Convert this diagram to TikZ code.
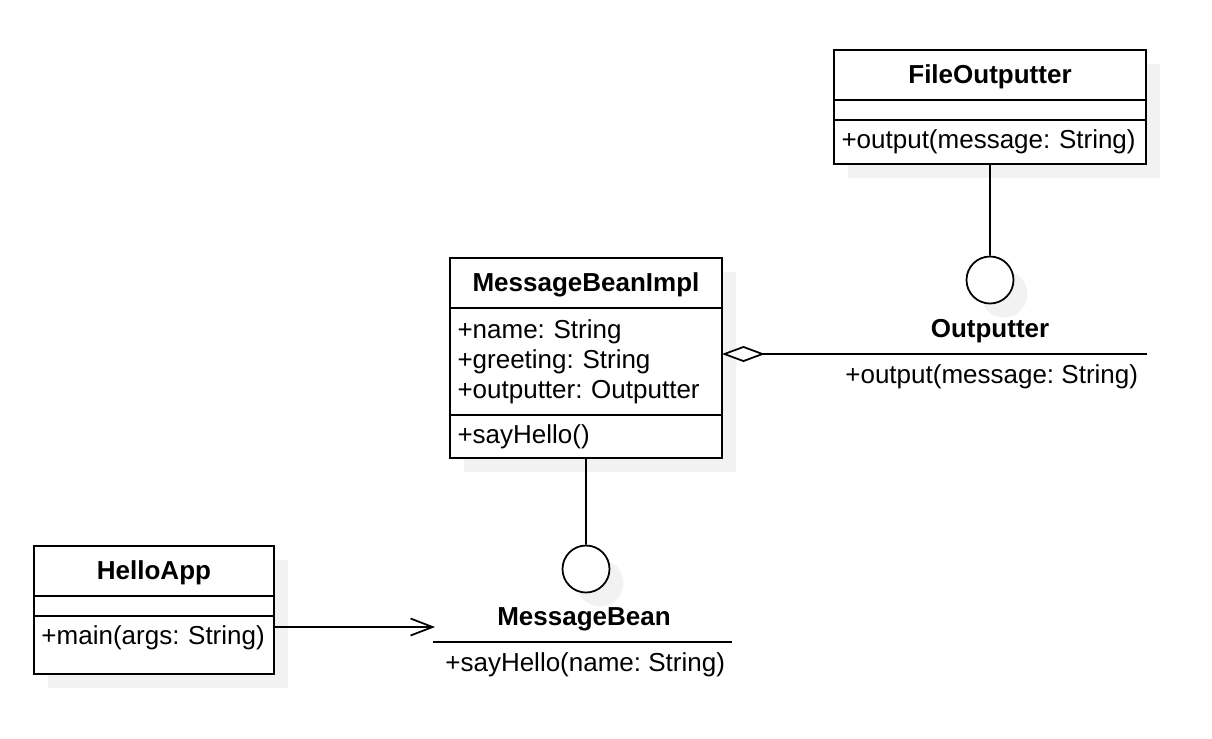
\documentclass[tikz,border=0pt]{standalone}
\usepackage{fontspec}
\setmainfont{Liberation Sans}
\usetikzlibrary{arrows.meta,positioning,shadows}

\newcommand{\umlfont}{\fontsize{14.8}{17}\selectfont\frenchspacing}

\begin{document}
\begin{tikzpicture}[x=0.02cm, y=-0.02cm,
        every node/.style={font=\umlfont},
        clsshadow/.style={drop shadow={shadow xshift=0.28cm, shadow yshift=-0.28cm,
                          fill=black!5, opacity=1}},
        clspart/.style={draw, fill=white, line width=1pt, outer sep=0pt,
                        inner xsep=0.15cm, inner ysep=0pt, align=left, clsshadow},
        clstitle/.style={clspart, align=center, font=\umlfont\bfseries, minimum height=1cm,
                         text height=0.42cm, text depth=0.07cm},
        clsempty/.style={clspart, minimum height=0.4cm},
        ifcircle/.style={draw, circle, fill=white, line width=1pt, minimum size=0.94cm,
                         inner sep=0pt, clsshadow},
        conn/.style={line width=1pt},
    ]
        \useasboundingbox (0,0) rectangle (1212,738);

        % FileOutputter
        \node[clstitle, text width=5.94cm, anchor=north west] (fo) at (834,50) {FileOutputter};
        \node[clsempty, text width=5.94cm, below=0pt of fo] (fo-attr) {};
        \node[clspart, text width=5.94cm, minimum height=0.88cm, below=0pt of fo-attr] (fo-ops)
              {+output(message: String)};

        % MessageBeanImpl
        \node[clstitle, text width=5.14cm, anchor=north west] (mbi) at (450,258) {MessageBeanImpl};
        \node[clspart, text width=5.14cm, minimum height=2.14cm, below=0pt of mbi] (mbi-attr)
              {+name: String\\+greeting: String\\+outputter: Outputter};
        \node[clspart, text width=5.14cm, minimum height=0.86cm, below=0pt of mbi-attr] (mbi-ops)
              {+sayHello()};

        % HelloApp
        \node[clstitle, text width=4.5cm, anchor=north west] (ha) at (34,546) {HelloApp};
        \node[clsempty, text width=4.5cm, below=0pt of ha] (ha-attr) {};
        \node[clspart, text width=4.5cm, minimum height=1.16cm, text depth=0.4cm,
              below=0pt of ha-attr] (ha-ops) {+main(args: String)};

        % Outputter interface
        \node[ifcircle] (oc) at (990,280) {};
        \node[font=\umlfont\bfseries] (on) at (990,331) {Outputter};
        \coordinate (ol-w) at (834,354);
        \coordinate (ol-e) at (1147,354);
        \draw[conn] (ol-w) -- (ol-e);
        \node[anchor=west, inner sep=0pt] (oop) at (845,377) {+output(message: String)};

        % MessageBean interface
        \node[ifcircle] (mbc) at (586,569) {};
        \node[font=\umlfont\bfseries] (mbn) at (584,619) {MessageBean};
        \coordinate (ml-w) at (433,642);
        \coordinate (ml-e) at (732,642);
        \draw[conn] (ml-w) -- (ml-e);
        \node[anchor=west, inner sep=0pt] (mbop) at (445,665) {+sayHello(name: String)};

        % Connectors
        \draw[conn] (fo-ops) -- (oc);
        \draw[conn] (mbi-ops) -- (mbc);
        \draw[conn, {Diamond[open, fill=white, length=0.86cm, width=0.32cm]}-]
              (mbi-attr.east |- ol-w) -- (ol-w);
        \coordinate (mb-in) at (435,627);
        \draw[conn, -{Straight Barb[length=0.44cm, width=0.34cm]}] (ha-ops.east |- mb-in) -- (mb-in);
    \end{tikzpicture}
\end{document}
